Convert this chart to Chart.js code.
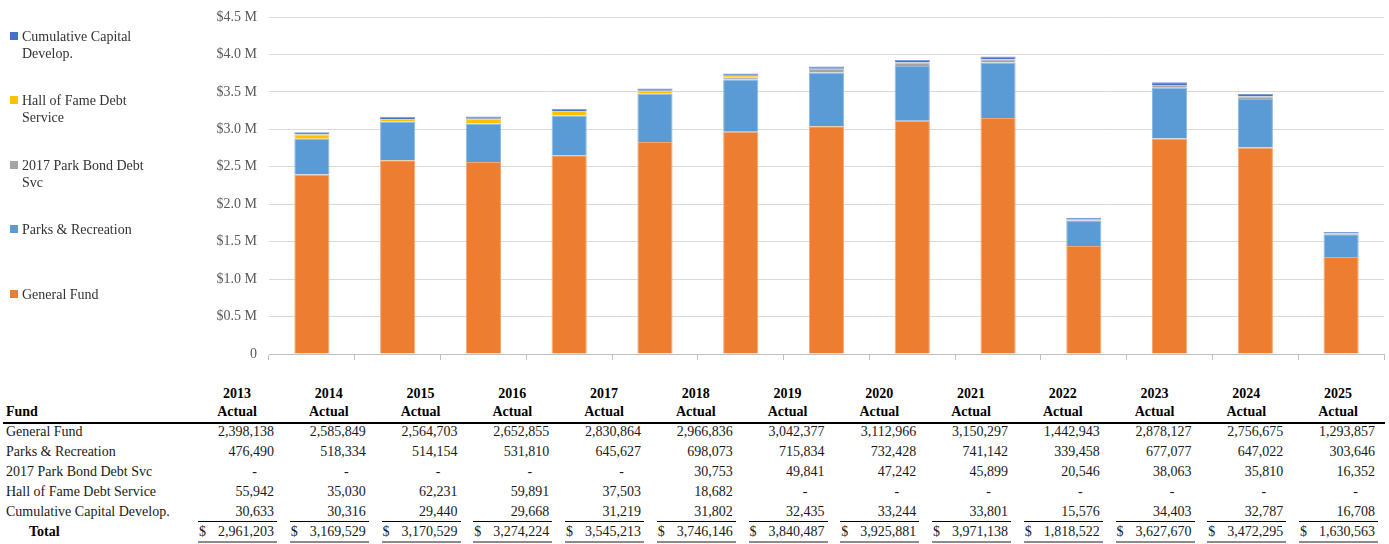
<!DOCTYPE html>
<html>
<head>
<meta charset="utf-8">
<script src="https://cdn.jsdelivr.net/npm/chart.js@4/dist/chart.umd.min.js"></script>
<style>
  html, body { margin: 0; padding: 0; background: #fff; }
  body { width: 1389px; height: 544px; position: relative; overflow: hidden;
         font-family: "Liberation Serif", "DejaVu Serif", serif; color: #1a1a1a; }
  #chartBox { position: absolute; left: 0; top: 0; width: 1389px; height: 370px; }
  #legend { position: absolute; left: 0; top: 0; }
  .lg { position: absolute; left: 10px; font-size: 14px; line-height: 17px; color: #333; width: 150px; }
  .lg i { position: absolute; left: 0; top: 4px; width: 8px; height: 8px; }
  .lg span { display: block; padding-left: 12px; }
  .t { position: absolute; font-size: 14px; line-height: 18px; white-space: nowrap; }
  .b { font-weight: bold; color: #000; }
  .rule { position: absolute; background: #000; }
</style>
</head>
<body>
<div id="chartBox"><canvas id="c"></canvas></div>
<div id="legend"></div>
<div id="table"></div>
<script>
// Fiscal years and fund values (dollars)
const years = ['2013', '2014', '2015', '2016', '2017', '2018', '2019', '2020', '2021', '2022', '2023', '2024', '2025'];
const yearSuffix = 'Actual';
const generalFund   = [2398138, 2585849, 2564703, 2652855, 2830864, 2966836, 3042377, 3112966, 3150297, 1442943, 2878127, 2756675, 1293857];
const parksRec      = [476490, 518334, 514154, 531810, 645627, 698073, 715834, 732428, 741142, 339458, 677077, 647022, 303646];
const parkBond2017  = [null, null, null, null, null, 30753, 49841, 47242, 45899, 20546, 38063, 35810, 16352];
const hallOfFame    = [55942, 35030, 62231, 59891, 37503, 18682, null, null, null, null, null, null, null];
const cumulativeCap = [30633, 30316, 29440, 29668, 31219, 31802, 32435, 33244, 33801, 15576, 34403, 32787, 16708];
const totals        = [2961203, 3169529, 3170529, 3274224, 3545213, 3746146, 3840487, 3925881, 3971138, 1818522, 3627670, 3472295, 1630563];
const yTicks = [0, 500000, 1000000, 1500000, 2000000, 2500000, 3000000, 3500000, 4000000, 4500000];

const funds = [
  { name: 'General Fund', values: generalFund, color: '#ED7D31', edge: '#F3A872' },
  { name: 'Parks & Recreation', values: parksRec, color: '#5B9BD5', edge: '#8DBAE3' },
  { name: '2017 Park Bond Debt Svc', values: parkBond2017, color: '#A5A5A5', edge: '#C4C4C4' },
  { name: 'Hall of Fame Debt Service', values: hallOfFame, color: '#FFC000', edge: '#FFD55A' },
  { name: 'Cumulative Capital Develop.', values: cumulativeCap, color: '#4472C4', edge: '#7A9BD6' }
];

new Chart(document.getElementById('c'), {
  type: 'bar',
  data: {
    labels: years,
    datasets: funds.map(f => ({
      label: f.name,
      data: f.values,
      backgroundColor: f.color,
      borderColor: f.edge,
      borderWidth: 1,
      barPercentage: 0.41,
      categoryPercentage: 1
    }))
  },
  options: {
    responsive: true,
    maintainAspectRatio: false,
    animation: false,
    layout: { padding: { left: 0, right: 5, top: 17, bottom: 6 } },
    plugins: { legend: { display: false }, tooltip: { enabled: false } },
    scales: {
      x: {
        stacked: true,
        grid: { display: true, drawOnChartArea: false, drawTicks: true, tickLength: 6, color: '#BFBFBF', offset: true },
        border: { display: true, color: '#BFBFBF' },
        ticks: { display: false },
        afterFit: s => { s.height = 10; }
      },
      y: {
        stacked: true,
        min: 0, max: 4500000,
        afterBuildTicks: s => { s.ticks = yTicks.map(v => ({ value: v })); },
        grid: { color: '#D9D9D9', drawTicks: false, lineWidth: 1 },
        border: { display: false },
        ticks: {
          padding: 12,
          color: '#595959',
          font: { family: 'Liberation Serif', size: 14 },
          callback: v => v === 0 ? '0' : '$' + (v / 1e6).toFixed(1) + ' M'
        },
        afterFit: s => { s.width = 269; s.paddingTop = 0; s.paddingBottom = 0; }
      }
    }
  }
});

// Legend (top entry is the top of the stack)
const legendEl = document.getElementById('legend');
const legendRows = [
  { idx: 4, lines: ['Cumulative Capital', 'Develop.'], top: 28 },
  { idx: 3, lines: ['Hall of Fame Debt', 'Service'], top: 92 },
  { idx: 2, lines: ['2017 Park Bond Debt', 'Svc'], top: 157 },
  { idx: 1, lines: ['Parks & Recreation'], top: 221 },
  { idx: 0, lines: ['General Fund'], top: 286 }
];
legendRows.forEach(r => {
  const d = document.createElement('div');
  d.className = 'lg';
  d.style.top = r.top + 'px';
  const sw = document.createElement('i');
  sw.style.background = funds[r.idx].color;
  d.appendChild(sw);
  r.lines.forEach(l => { const s = document.createElement('span'); s.textContent = l; d.appendChild(s); });
  legendEl.appendChild(d);
});

// Data table under the chart
const tbl = document.getElementById('table');
const colRight = i => 274 + i * 91.75;
function put(text, x, y, cls, align) {
  const e = document.createElement('div');
  e.className = 't' + (cls ? ' ' + cls : '');
  e.textContent = text;
  e.style.top = (y - 9) + 'px';
  if (align === 'right') { e.style.right = (1389 - x) + 'px'; }
  else if (align === 'center') { e.style.left = (x - 40) + 'px'; e.style.width = '80px'; e.style.textAlign = 'center'; }
  else { e.style.left = x + 'px'; }
  tbl.appendChild(e);
}
function rule(x, y, w, h, color) {
  const e = document.createElement('div');
  e.className = 'rule';
  e.style.left = x + 'px'; e.style.top = y + 'px';
  e.style.width = w + 'px'; e.style.height = h + 'px';
  if (color) e.style.background = color;
  tbl.appendChild(e);
}
const fmt = v => v.toLocaleString('en-US');

put('Fund', 6, 412, 'b');
years.forEach((y, i) => {
  const cx = colRight(i) - 37;
  put(y, cx, 394, 'b', 'center');
  put(yearSuffix, cx, 412, 'b', 'center');
});
rule(3, 422, 1382, 2);

const rowY = [432, 452, 472, 492, 512];
funds.forEach((f, r) => {
  put(f.name, 6, rowY[r]);
  f.values.forEach((v, i) => {
    if (v === null) put('-', colRight(i) - 17, rowY[r], '', 'right');
    else put(fmt(v), colRight(i), rowY[r], '', 'right');
  });
});

put('Total', 29, 532, 'b');
totals.forEach((v, i) => {
  const left = colRight(i) - 76;
  rule(left, 521, 79, 1);
  put('$', left + 1, 532);
  put(fmt(v), colRight(i), 532, '', 'right');
  rule(left, 541, 79, 1.5, '#8C8C8C');
  rule(left, 543.5, 79, 1.5, '#8C8C8C');
});
</script>
</body>
</html>
